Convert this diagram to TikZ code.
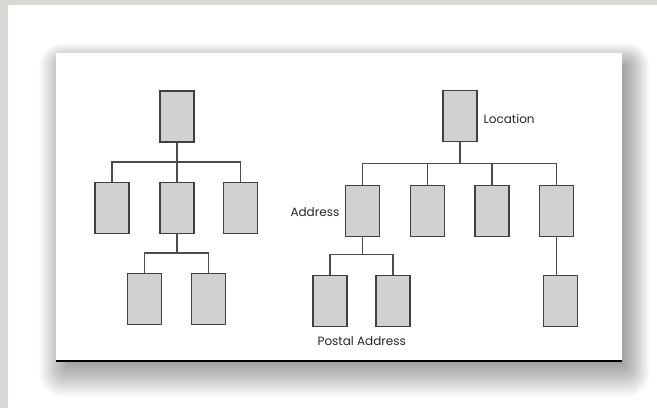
\documentclass[tikz,border=0pt]{standalone}
\usepackage{fontspec}
\setmainfont{Poppins}
\begin{document}
\begin{tikzpicture}[x=1pt,y=-1pt,
  unit/.style={draw=black!75,fill=black!18,line width=1.25pt,
    minimum width=34pt,minimum height=51pt,inner sep=0pt},
  wire/.style={draw=black!70,line width=1.4pt},
  tag/.style={text=black!85,font=\fontsize{12}{13}\selectfont,inner sep=0pt}]
% page frame
\fill[black!14!white!96!brown] (0,0) rectangle (657,408);
\fill[white] (8,5) rectangle (657,408);
\useasboundingbox (0,0) rectangle (657,408);
% soft drop shadow behind the card, heavier towards the bottom right
\foreach \s in {0,1.5,...,28.5}{
  \fill[black,opacity=0.02,rounded corners=0.8*\s pt]
    (68-\s,66-\s*0.8) rectangle (624+\s*0.9,364+\s*1.15);
}
% card
\fill[white] (56,53) rectangle (622,361);
\draw[black,line width=2.6pt] (56,361) -- (622,361);

% ---------- left hierarchy ----------
\coordinate (busA) at (0,162);
\coordinate (busB) at (0,253);
\node[unit] (L0)  at (177,116.5) {};
\node[unit] (L1a) at (112,208.3) {};
\node[unit] (L1b) at (177,208.3) {};
\node[unit] (L1c) at (240.3,208.3) {};
\node[unit] (L2a) at (144.3,299) {};
\node[unit] (L2b) at (208.3,299) {};
\draw[wire] (L0.south) -- (L1b.north);
\draw[wire] (L1a.north) -- (L1a.north |- busA) -| (L1c.north);
\draw[wire] (L1b.south) -- (L1b.south |- busB);
\draw[wire] (L2a.north) -- (L2a.north |- busB) -| (L2b.north);

% ---------- right hierarchy ----------
\coordinate (busC) at (0,163.3);
\coordinate (busD) at (0,254.5);
\node[unit] (R0)  at (460,116) {};
\node[unit] (R1a) at (362.7,210.8) {};
\node[unit] (R1b) at (427.3,210.8) {};
\node[unit] (R1c) at (492,210.8) {};
\node[unit] (R1d) at (556.7,210.8) {};
\node[unit] (R2a) at (330,301) {};
\node[unit] (R2b) at (393,301) {};
\node[unit] (R2c) at (560.7,301) {};
\draw[wire] (R0.south) -- (R0.south |- busC);
\draw[wire] (R1a.north) -- (R1a.north |- busC) -| (R1d.north);
\draw[wire] (R1b.north) -- (R1b.north |- busC);
\draw[wire] (R1c.north) -- (R1c.north |- busC);
\draw[wire] (R1a.south) -- (R1a.south |- busD);
\draw[wire] (R2a.north) -- (R2a.north |- busD) -| (R2b.north);
\draw[wire] (R1d.south) -- (R1d.south |- R2c.north);

% labels
\node[tag,anchor=west] (locT) at (483.5,119) {Location};
\node[tag,anchor=east] (adrT) at (339.5,211.7) {Address};
\node[tag] (posT) at (361.7,341) {Postal Address};
\end{tikzpicture}
\end{document}
